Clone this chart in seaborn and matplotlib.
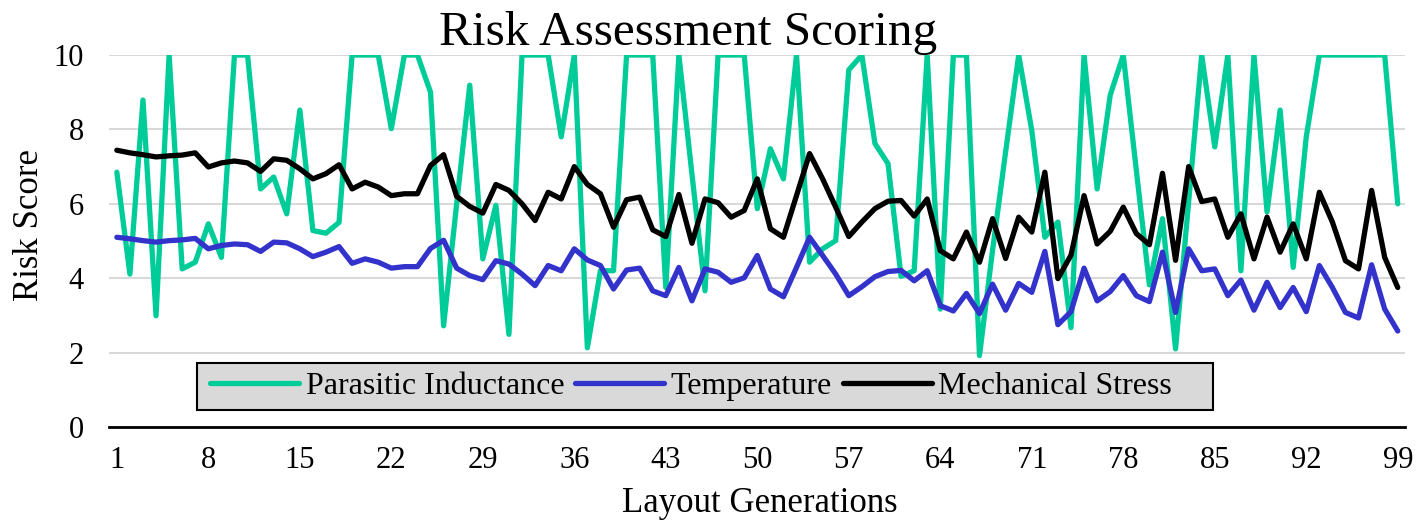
import numpy as np
import pandas as pd
import matplotlib
matplotlib.use("Agg")
import matplotlib.pyplot as plt
from matplotlib.patches import Rectangle
import seaborn as sns

generations = list(range(1, 100))

parasitic_inductance = [
    6.85, 4.11, 8.79, 2.99, 10, 4.25, 4.43, 5.46, 4.56, 10,
    10, 6.4, 6.72, 5.73, 8.52, 5.28, 5.21, 5.5, 10, 10,
    10, 8.02, 10, 10, 9.0, 2.72, 6.0, 9.19, 4.52, 5.96,
    2.49, 10, 10, 10, 7.8, 10, 2.13, 4.2, 4.2, 10,
    10, 10, 3.75, 10, 6.8, 3.66, 10, 10, 10, 5.87,
    7.48, 6.67, 10, 4.43, 4.79, 5.01, 9.6, 10, 7.62, 7.08,
    4.05, 4.2, 10, 3.17, 10, 10, 1.92, 4.75, 7.4, 10,
    7.97, 5.1, 5.51, 2.67, 10, 6.4, 8.92, 10, 6.9, 3.82,
    5.6, 2.1, 6.05, 10, 7.53, 10, 4.2, 10, 5.78, 8.52,
    4.29, 7.8, 10, 10, 10, 10, 10, 10, 6.0,
]

temperature = [
    5.10, 5.06, 5.01, 4.97, 5.01, 5.03, 5.07, 4.79, 4.88, 4.92,
    4.90, 4.72, 4.97, 4.95, 4.79, 4.58, 4.70, 4.85, 4.40, 4.52,
    4.43, 4.27, 4.31, 4.31, 4.80, 5.02, 4.27, 4.07, 3.96, 4.47,
    4.38, 4.11, 3.80, 4.34, 4.20, 4.79, 4.49, 4.34, 3.71, 4.22,
    4.27, 3.66, 3.53, 4.29, 3.39, 4.25, 4.16, 3.89, 4.01, 4.61,
    3.71, 3.50, 4.29, 5.10, 4.61, 4.11, 3.53, 3.77, 4.04, 4.18,
    4.21, 3.93, 4.20, 3.26, 3.12, 3.59, 3.05, 3.84, 3.14, 3.86,
    3.62, 4.72, 2.75, 3.10, 4.27, 3.39, 3.64, 4.07, 3.53, 3.37,
    4.70, 3.08, 4.79, 4.20, 4.25, 3.53, 3.95, 3.14, 3.89, 3.21,
    3.75, 3.10, 4.34, 3.75, 3.08, 2.93, 4.36, 3.17, 2.58,
]

mechanical_stress = [
    7.44, 7.37, 7.32, 7.26, 7.29, 7.31, 7.37, 6.99, 7.10, 7.15,
    7.10, 6.87, 7.21, 7.17, 6.94, 6.67, 6.81, 7.05, 6.40, 6.58,
    6.45, 6.22, 6.27, 6.27, 7.03, 7.32, 6.20, 5.93, 5.75, 6.52,
    6.36, 6.00, 5.55, 6.31, 6.13, 7.00, 6.52, 6.27, 5.37, 6.11,
    6.18, 5.30, 5.12, 6.25, 4.94, 6.13, 6.03, 5.64, 5.82, 6.67,
    5.33, 5.10, 6.22, 7.35, 6.67, 5.91, 5.12, 5.51, 5.87, 6.07,
    6.09, 5.67, 6.13, 4.74, 4.52, 5.24, 4.43, 5.60, 4.53, 5.64,
    5.24, 6.85, 3.99, 4.62, 6.22, 4.92, 5.26, 5.91, 5.20, 4.90,
    6.82, 4.48, 7.00, 6.06, 6.13, 5.10, 5.73, 4.52, 5.64, 4.70,
    5.46, 4.52, 6.31, 5.51, 4.47, 4.25, 6.36, 4.56, 3.75,
]

series_names = ["Parasitic Inductance", "Temperature", "Mechanical Stress"]
colors = ["#00CC99", "#3333CC", "#000000"]
x_ticks = list(range(1, 100, 7))
y_ticks = [0, 2, 4, 6, 8, 10]

df = pd.DataFrame({
    "Generation": generations * 3,
    "Score": parasitic_inductance + temperature + mechanical_stress,
    "Series": sum([[n] * len(generations) for n in series_names], []),
})

sns.set_theme(style="white")
plt.rcParams["font.family"] = ["Liberation Serif", "DejaVu Serif"]
plt.rcParams["text.color"] = "black"
plt.rcParams["xtick.color"] = "black"
plt.rcParams["ytick.color"] = "black"
plt.rcParams["axes.labelcolor"] = "black"

fig = plt.figure(figsize=(14.21, 5.27), dpi=100)
ax = fig.add_axes([0.0767, 0.1898, 0.912, 0.7058])

sns.lineplot(data=df, x="Generation", y="Score", hue="Series",
             hue_order=series_names, palette=colors, linewidth=3.8,
             ax=ax, legend=True)

ax.set_xlim(0.4, 99.55)
ax.set_ylim(0, 10)
ax.set_xticks(x_ticks)
ax.set_yticks(y_ticks)
ax.tick_params(axis="x", labelsize=22, length=0, pad=14)
ax.tick_params(axis="y", labelsize=22, length=0, pad=18)
ax.yaxis.grid(True, color="#d9d9d9", linewidth=1.5)
ax.set_axisbelow(True)
for s in ["top", "right", "left"]:
    ax.spines[s].set_visible(False)
ax.spines["bottom"].set_color("black")
ax.spines["bottom"].set_linewidth(2)

ax.set_xlabel("")
ax.set_ylabel("")
fig.text(0.535, 0.0455, "Layout Generations", fontsize=25,
         ha="center", va="center", color="black")
fig.text(0.0211, 0.573, "Risk Score", fontsize=25, rotation=90,
         ha="center", va="center", color="black")
fig.text(0.484, 0.937, "Risk Assessment Scoring", fontsize=35.5,
         ha="center", va="center", color="black")

# legend box
box = Rectangle((0.0679, 0.0457), 0.784, 0.126, transform=ax.transAxes,
                facecolor="#d9d9d9", edgecolor="black", linewidth=1.5,
                zorder=4)
ax.add_patch(box)

handles, labels = ax.get_legend_handles_labels()
leg = ax.legend(handles, labels, ncol=3, loc="center left",
                bbox_to_anchor=(0.0779, 0.109), fontsize=23, frameon=False,
                handlelength=2.8, columnspacing=0.33, handletextpad=0.2,
                borderpad=0.0, borderaxespad=0.0)
leg.set_zorder(5)

fig.savefig("out.png", dpi=100)
